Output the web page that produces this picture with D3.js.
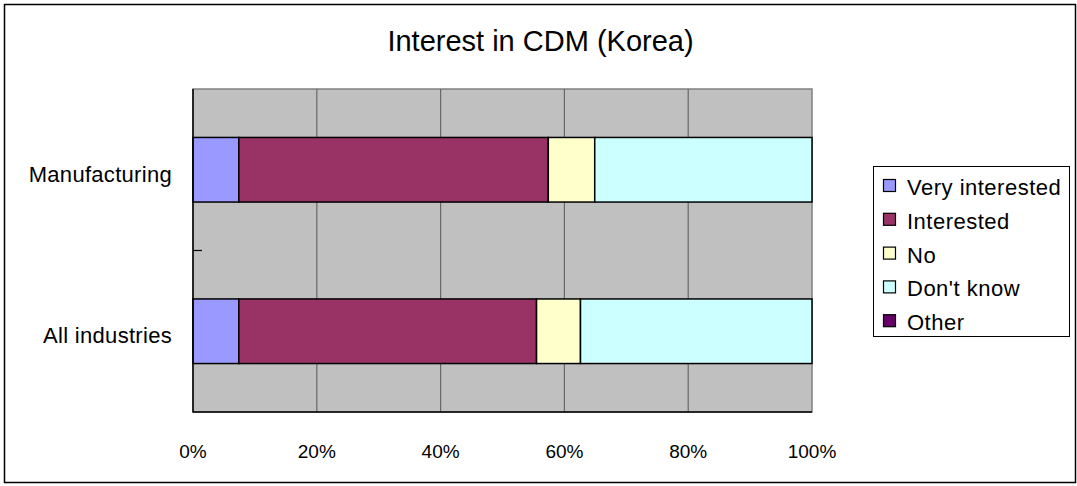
<!DOCTYPE html>
<html><head><meta charset="utf-8">
<script src="https://cdn.jsdelivr.net/npm/d3@7"></script>
<style>body{margin:0;background:#fff}svg{display:block}</style>
</head><body><svg id="c" width="1077" height="486"></svg>
<script>
const categories = ["Manufacturing", "All industries"];
const seriesNames = ["Very interested", "Interested", "No", "Don't know", "Other"];
const veryInterested = [7.4, 7.4];
const interested = [50.0, 48.1];
const no = [7.5, 7.1];
const dontKnow = [35.1, 37.4];
const other = [0, 0];
const tickValues = [0, 20, 40, 60, 80, 100];
const colors = ["#9999FF", "#993366", "#FFFFCC", "#CCFFFF", "#660066"];

const svg = d3.select("#c");
svg.append("rect").attr("x", 4.5).attr("y", 4.5).attr("width", 1071).attr("height", 478)
  .attr("fill", "#fff").attr("stroke", "#000").attr("stroke-width", 1.5);

svg.append("text").attr("x", 540.5).attr("y", 51).attr("text-anchor", "middle")
  .attr("font-family", "Liberation Sans, Arial").attr("font-size", 29)
  .text("Interest in CDM (Korea)");

const L = 193, R = 812, T = 89, B = 412;
const x = d3.scaleLinear().domain([0, 100]).range([L, R]);
const y = d3.scaleBand().domain(categories).range([T, B]).paddingInner(0.6).paddingOuter(0.3);

svg.append("rect").attr("x", L).attr("y", T).attr("width", R - L).attr("height", B - T)
  .attr("fill", "#C0C0C0").attr("stroke", "#808080").attr("stroke-width", 1.5);

svg.append("g").selectAll("line").data(tickValues.slice(1, -1)).join("line")
  .attr("x1", d => x(d)).attr("x2", d => x(d)).attr("y1", T).attr("y2", B)
  .attr("stroke", "#686868").attr("stroke-width", 1.2);

const rows = categories.map((c, i) => ({cat: c, vals: [veryInterested[i], interested[i], no[i], dontKnow[i], other[i]]}));
const keys = seriesNames.map((s, i) => i);
const stacked = d3.stack().keys(keys).value((d, k) => d.vals[k])(rows);

svg.append("g").selectAll("g").data(stacked).join("g")
  .attr("fill", (d, i) => colors[i])
  .selectAll("rect").data(d => d.filter(p => p[1] - p[0] > 0)).join("rect")
  .attr("x", d => x(d[0])).attr("width", d => x(d[1]) - x(d[0]))
  .attr("y", d => y(d.data.cat)).attr("height", y.bandwidth())
  .attr("stroke", "#000").attr("stroke-width", 1.5);

// axes lines
svg.append("line").attr("x1", L).attr("x2", L).attr("y1", T).attr("y2", B + 0.5)
  .attr("stroke", "#000").attr("stroke-width", 1.5);
svg.append("line").attr("x1", L).attr("x2", R).attr("y1", B).attr("y2", B)
  .attr("stroke", "#000").attr("stroke-width", 1.5);
// category separator tick
svg.append("line").attr("x1", L).attr("x2", L + 9).attr("y1", (T + B) / 2).attr("y2", (T + B) / 2)
  .attr("stroke", "#000").attr("stroke-width", 1.2);

svg.append("g").selectAll("text").data(categories).join("text")
  .attr("x", 172).attr("y", d => y(d) + y.bandwidth() / 2 + 12).attr("text-anchor", "end")
  .attr("font-family", "Liberation Sans, Arial").attr("font-size", 22).attr("letter-spacing", 0.3)
  .text(d => d);

svg.append("g").selectAll("text").data(tickValues).join("text")
  .attr("x", d => x(d)).attr("y", 458).attr("text-anchor", "middle")
  .attr("font-family", "Liberation Sans, Arial").attr("font-size", 19)
  .text(d => d + "%");

// legend
const lg = svg.append("g");
lg.append("rect").attr("x", 873.5).attr("y", 166.5).attr("width", 196).attr("height", 170)
  .attr("fill", "#fff").attr("stroke", "#000").attr("stroke-width", 1);
const items = lg.selectAll("g").data(seriesNames).join("g")
  .attr("transform", (d, i) => `translate(0,${186 + i * 33.8})`);
items.append("rect").attr("x", 883.5).attr("y", -6.5).attr("width", 12).attr("height", 12)
  .attr("fill", (d, i) => colors[i]).attr("stroke", "#000").attr("stroke-width", 1.2);
items.append("text").attr("x", 907).attr("y", 9)
  .attr("font-family", "Liberation Sans, Arial").attr("font-size", 22).attr("letter-spacing", 0.5)
  .text(d => d);
</script></body></html>
